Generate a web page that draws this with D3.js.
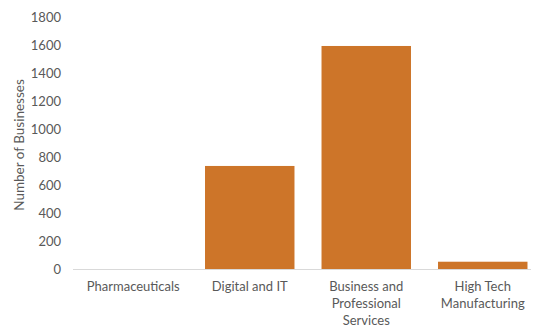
<!DOCTYPE html>
<html><head><meta charset="utf-8">
<script src="https://cdn.jsdelivr.net/npm/d3@7"></script>
<style>body{margin:0;background:#fff}svg{display:block}text{font-family:"Lato","Open Sans",sans-serif;fill:#595959}</style>
</head><body><svg id="c" width="534" height="329"></svg>
<script>
const categories = [["Pharmaceuticals"], ["Digital and IT"], ["Business and", "Professional", "Services"], ["High Tech", "Manufacturing"]];
const values = [0, 736, 1593, 52];
const yTicks = [0, 200, 400, 600, 800, 1000, 1200, 1400, 1600, 1800];
const yTitle = "Number of Businesses";

const svg = d3.select("#c");
const m = {left: 75, right: 541, top: 17, bottom: 269};
const keys = categories.map((c, i) => i);
const x = d3.scaleBand().domain(keys).range([m.left, m.right]).paddingInner(0.232).paddingOuter(0.116);
const y = d3.scaleLinear().domain([0, 1800]).range([m.bottom, m.top]);

svg.selectAll("rect.bar").data(values).join("rect").attr("class", "bar")
  .attr("x", (d, i) => x(i)).attr("width", x.bandwidth())
  .attr("y", d => y(d)).attr("height", d => y(0) - y(d))
  .attr("fill", "#CD7529");

svg.append("line").attr("x1", m.left - 2).attr("x2", 531).attr("y1", y(0) + 0.5).attr("y2", y(0) + 0.5)
  .attr("stroke", "#d9d9d9").attr("stroke-width", 1);

svg.selectAll("text.yt").data(yTicks).join("text").attr("class", "yt")
  .attr("x", 61).attr("y", d => y(d)).attr("dy", "0.35em").attr("text-anchor", "end")
  .attr("font-size", 13).text(d => d);

const lab = svg.selectAll("text.xl").data(categories).join("text").attr("class", "xl")
  .attr("text-anchor", "middle").attr("font-size", 13);
lab.each(function(lines, i) {
  const t = d3.select(this);
  lines.forEach((ln, j) => {
    t.append("tspan").attr("x", x(i) + x.bandwidth() / 2).attr("y", 291 + j * 17).text(ln);
  });
});

svg.append("text").attr("transform", `translate(24,${(m.top + m.bottom) / 2 + 2}) rotate(-90)`)
  .attr("text-anchor", "middle").attr("font-size", 13.5).text(yTitle);
</script></body></html>
